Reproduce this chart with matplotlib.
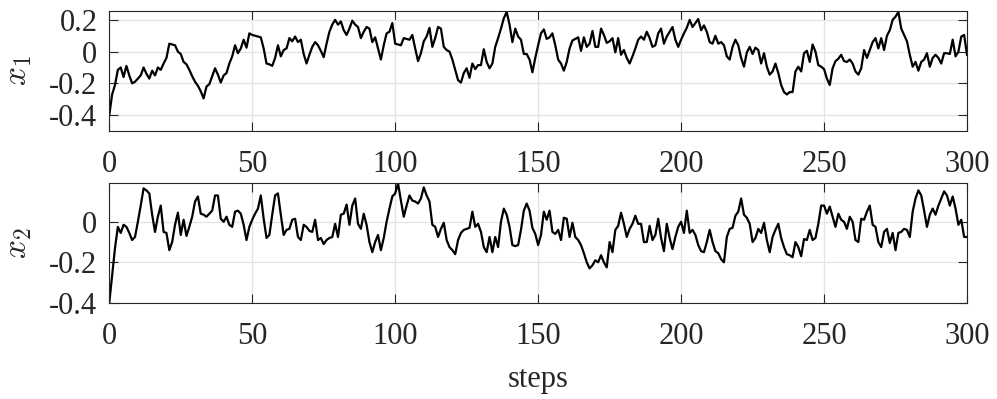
import numpy as np
import matplotlib
matplotlib.use("Agg")
import matplotlib.pyplot as plt
from matplotlib.ticker import FormatStrFormatter

plt.rcParams["font.family"] = ["Liberation Serif", "DejaVu Serif"]
plt.rcParams["mathtext.fontset"] = "cm"
plt.rcParams["axes.unicode_minus"] = False

# ---------------------------------------------------------
# data (one value per step, 0..300)
# ---------------------------------------------------------
x1 = [
    -0.40, -0.27, -0.21, -0.115, -0.10, -0.16, -0.09, -0.15, -0.20, -0.19,
    -0.17, -0.15, -0.10, -0.14, -0.17, -0.12, -0.15, -0.10, -0.115, -0.075,
    -0.04, 0.05, 0.045, 0.04, 0.0, -0.015, -0.065, -0.08, -0.115, -0.155,
    -0.19, -0.215, -0.25, -0.295, -0.22, -0.205, -0.155, -0.105, -0.145, -0.195,
    -0.15, -0.135, -0.075, -0.03, 0.04, -0.01, 0.02, 0.075, 0.025, 0.115,
    0.105, 0.10, 0.095, 0.09, 0.02, -0.075, -0.08, -0.09, -0.04, 0.04,
    -0.03, 0.01, 0.02, 0.085, 0.065, 0.095, 0.06, 0.075, -0.015, -0.075,
    -0.02, 0.03, 0.06, 0.04, 0.005, -0.035, 0.05, 0.125, 0.17, 0.20,
    0.17, 0.19, 0.135, 0.105, 0.145, 0.195, 0.17, 0.155, 0.085, 0.125,
    0.155, 0.145, 0.06, 0.09, 0.02, -0.05, 0.04, 0.115, 0.125, 0.18,
    0.05, 0.045, 0.04, 0.085, 0.08, 0.075, 0.105, 0.02, -0.06, -0.01,
    0.065, 0.095, 0.15, 0.03, 0.085, 0.155, 0.145, 0.03, 0.01, 0.0,
    -0.05, -0.115, -0.18, -0.195, -0.135, -0.105, -0.165, -0.075, -0.11, -0.085,
    -0.085, 0.015, -0.065, -0.105, -0.075, 0.03, 0.085, 0.145, 0.21, 0.25,
    0.17, 0.06, 0.145, 0.095, 0.075, -0.015, -0.015, -0.05, -0.13, -0.04,
    0.04, 0.115, 0.14, 0.08, 0.09, 0.115, 0.04, -0.05, -0.075, -0.12,
    -0.065, 0.02, 0.07, 0.08, 0.09, 0.005, 0.09, 0.03, 0.05, 0.13,
    0.03, 0.03, 0.145, 0.105, 0.055, 0.065, 0.085, -0.005, 0.085, -0.02,
    0.01, -0.04, -0.075, -0.03, 0.02, 0.075, 0.095, 0.075, 0.125, 0.085,
    0.03, 0.04, 0.115, 0.145, 0.05, 0.095, 0.125, 0.155, 0.075, 0.03,
    0.075, 0.115, 0.15, 0.20, 0.155, 0.18, 0.205, 0.135, 0.165, 0.125,
    0.06, 0.05, 0.10, 0.05, 0.06, 0.04, -0.03, -0.05, 0.03, 0.075,
    0.04, -0.04, -0.095, -0.005, 0.03, -0.015, 0.025, 0.01, -0.075, -0.01,
    -0.095, -0.145, -0.125, -0.075, -0.135, -0.21, -0.255, -0.27, -0.255, -0.255,
    -0.125, -0.095, -0.125, -0.01, 0.005, -0.065, 0.045, 0.0, -0.085, -0.095,
    -0.11, -0.17, -0.21, -0.105, -0.06, -0.045, -0.02, -0.06, -0.065, -0.05,
    -0.075, -0.125, -0.145, -0.105, 0.01, -0.04, 0.01, 0.06, 0.085, 0.02,
    0.085, 0.01, 0.10, 0.135, 0.20, 0.22, 0.25, 0.145, 0.105, 0.065,
    -0.02, -0.095, -0.065, -0.12, -0.065, -0.05, -0.01, -0.095, -0.04, -0.02,
    -0.04, -0.075, -0.01, -0.01, -0.015, 0.075, -0.03, 0.0, 0.095, 0.105,
    -0.02,
]

x2 = [
    -0.40, -0.265, -0.13, -0.025, -0.055, -0.015, -0.025, -0.055, -0.09, -0.075,
    0.0, 0.08, 0.165, 0.155, 0.14, 0.035, -0.05, 0.025, 0.08, -0.05,
    -0.055, -0.14, -0.10, -0.015, 0.045, -0.065, 0.01, -0.07, -0.025, 0.025,
    0.10, 0.125, 0.04, 0.035, 0.025, 0.04, 0.055, 0.13, 0.13, 0.015,
    0.0, 0.025, -0.015, -0.025, 0.05, 0.055, 0.04, -0.015, -0.09, -0.025,
    0.01, 0.04, 0.065, 0.13, 0.015, -0.08, -0.065, 0.035, 0.13, 0.14,
    0.035, -0.065, -0.04, -0.035, 0.01, 0.015, -0.075, -0.09, -0.015, -0.025,
    -0.045, -0.05, 0.01, -0.09, -0.08, -0.11, -0.09, -0.08, -0.075, -0.01,
    -0.075, 0.035, 0.04, 0.085, -0.015, 0.08, 0.115, -0.01, -0.035, 0.04,
    -0.015, -0.10, -0.15, -0.10, -0.065, -0.14, -0.08, 0.0, 0.065, 0.125,
    0.14, 0.19, 0.105, 0.025, 0.08, 0.13, 0.105, 0.10, 0.09, 0.115,
    0.17, 0.13, 0.10, -0.015, -0.025, -0.075, -0.035, -0.005, -0.09, -0.125,
    -0.14, -0.16, -0.09, -0.055, -0.04, -0.035, -0.03, 0.05, -0.025, -0.01,
    -0.05, -0.125, -0.15, -0.075, -0.15, -0.075, -0.125, 0.0, 0.065, 0.035,
    -0.025, -0.115, -0.12, -0.115, -0.04, 0.055, 0.09, 0.055, -0.03, -0.06,
    -0.115, -0.065, 0.05, 0.01, 0.055, -0.05, -0.06, -0.04, -0.09, 0.02,
    0.015, -0.075, -0.005, -0.075, -0.09, -0.115, -0.155, -0.20, -0.23, -0.215,
    -0.19, -0.20, -0.165, -0.20, -0.225, -0.10, -0.15, -0.04, -0.02, 0.045,
    -0.01, -0.075, -0.035, -0.01, 0.03, -0.01, -0.01, -0.10, -0.10, -0.02,
    -0.09, -0.065, 0.015, -0.08, -0.145, -0.01, -0.08, -0.135, -0.075, -0.025,
    0.0, -0.055, 0.055, -0.055, -0.04, -0.065, -0.115, -0.145, -0.15, -0.10,
    -0.04, -0.10, -0.145, -0.155, -0.185, -0.20, -0.075, -0.035, -0.03, 0.03,
    0.05, 0.115, 0.035, 0.02, -0.01, -0.10, -0.08, -0.035, -0.055, -0.005,
    -0.09, -0.15, -0.075, -0.04, -0.01, -0.08, -0.125, -0.16, -0.165, -0.175,
    -0.10, -0.125, -0.17, -0.085, -0.09, -0.04, -0.09, -0.08, -0.01, 0.08,
    0.08, 0.04, 0.075, 0.025, -0.025, 0.04, 0.01, 0.0, -0.035, 0.025,
    0.0, -0.09, -0.10, 0.015, 0.01, 0.05, 0.08, -0.015, -0.025, -0.10,
    -0.125, -0.05, -0.035, -0.105, -0.055, -0.14, -0.055, -0.05, -0.035, -0.04,
    -0.075, 0.05, 0.115, 0.155, 0.13, 0.055, -0.025, 0.035, 0.065, 0.035,
    0.08, 0.115, 0.15, 0.13, 0.08, 0.125, 0.065, -0.015, 0.01, -0.075,
    -0.075,
]

steps = np.arange(len(x1))

AX_COLOR = "#262626"
GRID_COLOR = "#e3e3e3"

fig = plt.figure(figsize=(9.97, 3.99), dpi=100)
ax1 = fig.add_axes([0.1096, 0.6717, 0.8603, 0.3008])
ax2 = fig.add_axes([0.1096, 0.2411, 0.8603, 0.2995])

panels = [
    (ax1, x1, r"$x_1$", (-0.5, 0.256), [-0.4, -0.2, 0, 0.2]),
    (ax2, x2, r"$x_2$", (-0.4, 0.19), [-0.4, -0.2, 0]),
]

for ax, y, lab, ylim, yticks in panels:
    ax.plot(steps, y, color="black", lw=1.6)
    ax.set_xlim(0, 300)
    ax.set_ylim(*ylim)
    ax.set_xticks(range(0, 301, 50))
    ax.set_yticks(yticks)
    ax.yaxis.set_major_formatter(FormatStrFormatter("%g"))
    ax.grid(True, color=GRID_COLOR, lw=0.9)
    ax.set_axisbelow(True)
    for sp in ax.spines.values():
        sp.set_color(AX_COLOR)
        sp.set_linewidth(0.8)
    ax.tick_params(direction="in", length=6.5, width=0.8, color=AX_COLOR,
                   labelcolor=AX_COLOR, labelsize=22, top=True, right=True)
    ax.tick_params(axis="x", pad=14)
    ax.tick_params(axis="y", pad=8.5)
    ax.set_ylabel(lab, fontsize=24, color=AX_COLOR)
    ax.yaxis.label.set_va("center")
    ax.yaxis.set_label_coords(-0.106, 0.5)

ax2.set_xlabel("steps", fontsize=22, color=AX_COLOR)
ax2.xaxis.set_label_coords(0.5, -0.638)
ax2.xaxis.label.set_va("center")

fig.savefig("out.png", dpi=100)
